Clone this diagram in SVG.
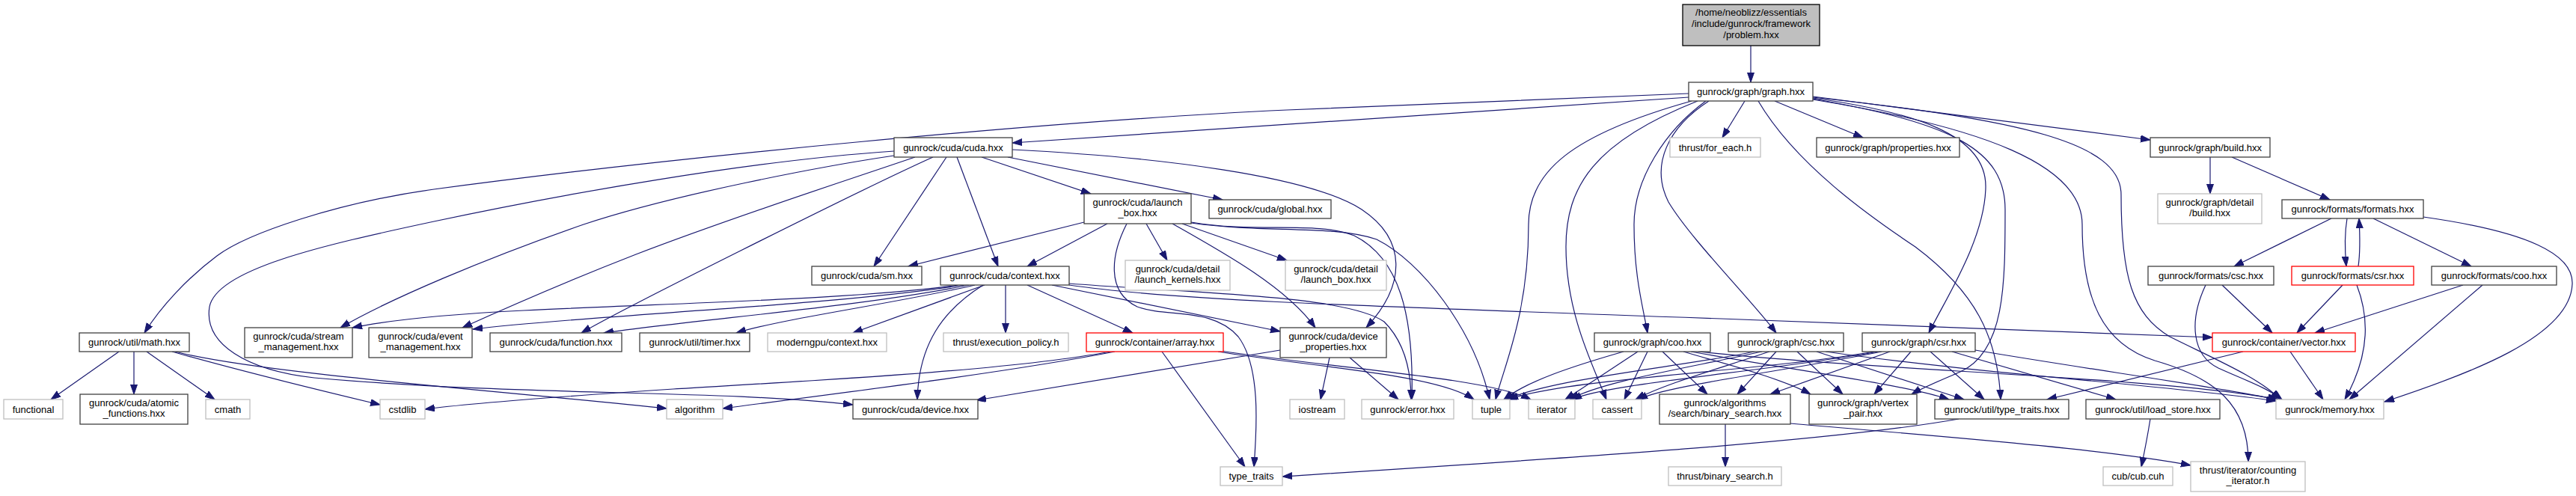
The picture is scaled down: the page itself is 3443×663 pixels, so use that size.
<svg xmlns="http://www.w3.org/2000/svg" width="3443" height="663" viewBox="0 0 3443 663">
<defs>
<marker id="ah" markerWidth="14" markerHeight="10" refX="13" refY="4.5" orient="auto" markerUnits="userSpaceOnUse"><path d="M0,0 L13,4.5 L0,9 Z" fill="#191970" stroke="#191970" stroke-width="1"/></marker>
<style>
rect{fill:#ffffff;stroke:#404040;stroke-width:1.3}
.g rect{stroke:#bfbfbf}
.r rect{stroke:#ff0000}
.root rect{fill:#bfbfbf;stroke:#000000}
text{font-family:"Liberation Sans",Arial,Helvetica,sans-serif;font-size:13px;fill:#000000;text-anchor:middle}
#edges path{fill:none;stroke:#191970;stroke-width:1.2;marker-end:url(#ah)}
</style>
</defs>
<rect x="0" y="0" width="3443" height="663" style="fill:#ffffff;stroke:none"/>
<g id="edges">
<path d="M2340,61 L2340,110"/>
<path d="M2332,135 L2302,184"/>
<path d="M2372,135 L2490,184"/>
<path d="M2423,129 L2874,187"/>
<path d="M2257,125 L1720,147 C1400,162 900,210 580,253 C450,271 330,312 290,342 C250,372 215,410 193,445"/>
<path d="M2257,130 L1353,191"/>
<path d="M2261,135 C2100,180 2043,230 2043,300 C2043,420 2010,490 1999,534"/>
<path d="M2269,135 C2130,190 2093,250 2093,330 C2093,420 2130,490 2147,534"/>
<path d="M2280,135 C2225,175 2184,240 2184,300 C2184,370 2196,410 2202,445"/>
<path d="M2284,135 C2230,170 2205,220 2230,270 C2260,320 2340,400 2374,445"/>
<path d="M2350,135 C2400,220 2500,290 2560,330 C2640,390 2670,450 2674,534"/>
<path d="M2423,131 C2560,150 2655,180 2654,250 C2653,320 2600,400 2578,445"/>
<path d="M2423,132 C2610,165 2680,200 2680,280 C2680,380 2680,470 2620,497 C2590,510 2570,518 2555,527"/>
<path d="M2423,133 C2650,170 2783,220 2783,300 C2783,400 2810,460 2880,482 C2960,505 3005,540 3005,617"/>
<path d="M2423,130 C2700,160 2835,190 2835,260 C2835,370 2850,420 2900,450 C2960,480 3020,505 3048,534"/>
<path d="M1312,210 L1458,259"/>
<path d="M1347,210 L1634,267"/>
<path d="M1353,200 C1550,210 1750,235 1820,280 C1880,320 1880,380 1826,438"/>
<path d="M1265,210 L1168,356"/>
<path d="M1279,210 L1334,356"/>
<path d="M1195,208 C1100,222 900,260 780,300 C650,345 520,400 455,438"/>
<path d="M1223,210 C1120,245 980,290 850,340 C760,375 680,410 618,438"/>
<path d="M1247,210 C1180,240 1080,290 990,335 C900,380 820,420 777,445"/>
<path d="M1195,202 C1000,215 750,260 580,296 C430,328 290,360 280,410 C272,460 330,495 420,505 C700,530 950,520 1140,541"/>
<path d="M1280,381 C1150,400 900,405 700,415 C600,420 520,428 471,438"/>
<path d="M1288,381 C1100,410 800,420 632,440"/>
<path d="M1295,381 C1150,410 950,425 807,445"/>
<path d="M1303,381 C1200,405 1050,425 984,445"/>
<path d="M1316,381 L1140,445"/>
<path d="M1344,381 L1344,445"/>
<path d="M1373,381 L1514,445"/>
<path d="M1314,381 C1260,415 1228,460 1226,534"/>
<path d="M1406,381 L1711,443"/>
<path d="M1429,379 C1600,392 1800,395 1850,430 C1880,460 1886,500 1886,534"/>
<path d="M1429,381 C1560,400 1750,407 2300,426 C2600,437 2800,446 2957,451"/>
<path d="M1449,297 L1214,356"/>
<path d="M1480,299 L1373,356"/>
<path d="M1506,299 C1485,340 1478,390 1520,410 C1560,425 1620,410 1655,450 C1685,490 1680,570 1676,624"/>
<path d="M1532,299 L1560,348"/>
<path d="M1567,299 C1640,340 1720,385 1758,438"/>
<path d="M1580,299 L1720,348"/>
<path d="M1592,297 C1680,312 1760,295 1810,315 C1870,345 1890,420 1887,534"/>
<path d="M1592,298 C1690,312 1780,300 1840,320 C1900,350 1970,440 1991,534"/>
<path d="M1777,478 L1765,534"/>
<path d="M1804,478 L1869,534"/>
<path d="M1711,468 L1305,535"/>
<path d="M1484,470 C1350,495 1100,508 900,520 C750,530 620,540 568,547"/>
<path d="M1490,470 C1350,497 1150,522 966,546"/>
<path d="M1553,470 L1664,624"/>
<path d="M1628,470 C1750,490 1920,500 1970,534"/>
<path d="M1632,469 C1780,492 1990,505 2046,534"/>
<path d="M159,470 L68,534"/>
<path d="M179,470 L179,527"/>
<path d="M196,470 L287,534"/>
<path d="M230,470 C300,490 420,520 508,541"/>
<path d="M234,470 C350,500 700,525 891,546"/>
<path d="M2954,210 L2954,259"/>
<path d="M2983,210 L3114,267"/>
<path d="M3116,292 L2986,356"/>
<path d="M3137,292 C3134,310 3134,335 3136,356"/>
<path d="M3152,356 C3155,335 3154,310 3153,292"/>
<path d="M3172,292 L3303,356"/>
<path d="M3239,290 C3380,310 3440,340 3438,380 C3435,450 3300,500 3187,537"/>
<path d="M2970,381 L3037,445"/>
<path d="M2948,381 C2925,430 2930,475 2965,492 C3000,508 3030,518 3050,534"/>
<path d="M3131,381 L3070,445"/>
<path d="M3150,381 C3165,420 3170,470 3134,534"/>
<path d="M3292,381 L3094,445"/>
<path d="M3318,381 L3140,534"/>
<path d="M3061,470 L3105,534"/>
<path d="M2998,470 L2736,534"/>
<path d="M2170,470 C2100,490 2040,510 2010,534"/>
<path d="M2189,470 L2092,534"/>
<path d="M2202,470 L2171,534"/>
<path d="M2222,470 L2282,527"/>
<path d="M2250,470 C2300,485 2380,505 2420,527"/>
<path d="M2260,470 C2400,495 2550,515 2605,534"/>
<path d="M2270,470 C2500,495 2900,505 3045,534"/>
<path d="M2345,470 C2250,490 2080,505 2013,534"/>
<path d="M2355,470 C2250,493 2140,510 2098,534"/>
<path d="M2365,470 C2290,495 2220,515 2186,534"/>
<path d="M2374,470 L2322,527"/>
<path d="M2402,470 L2463,527"/>
<path d="M2428,470 L2625,534"/>
<path d="M2440,470 C2650,500 2900,515 3042,536"/>
<path d="M2505,470 C2350,497 2100,505 2016,534"/>
<path d="M2510,470 C2360,497 2150,512 2101,534"/>
<path d="M2515,470 C2380,497 2230,515 2189,534"/>
<path d="M2526,470 L2366,527"/>
<path d="M2554,470 L2505,527"/>
<path d="M2580,470 L2652,534"/>
<path d="M2609,470 L2828,534"/>
<path d="M2640,468 C2800,495 2950,515 3044,534"/>
<path d="M2306,567 L2306,624"/>
<path d="M2393,566 C2550,580 2800,598 2928,622"/>
<path d="M2618,560 C2450,590 2100,612 1714,637"/>
<path d="M2874,560 C2870,585 2866,605 2862,624"/>
</g>
<g id="n_root" class="root"><rect x="2249" y="6" width="183" height="55"/><text x="2340.5" y="20.5">/home/neoblizz/essentials</text><text x="2340.5" y="35.5">/include/gunrock/framework</text><text x="2340.5" y="50.5">/problem.hxx</text></g>
<g id="n_graph"><rect x="2257" y="110" width="166" height="25"/><text x="2340" y="127">gunrock/graph/graph.hxx</text></g>
<g id="n_for_each" class="g"><rect x="2232" y="184" width="121" height="26"/><text x="2292.5" y="201.5">thrust/for_each.h</text></g>
<g id="n_properties"><rect x="2428" y="184" width="191" height="26"/><text x="2523.5" y="201.5">gunrock/graph/properties.hxx</text></g>
<g id="n_build"><rect x="2874" y="184" width="160" height="26"/><text x="2954" y="201.5">gunrock/graph/build.hxx</text></g>
<g id="n_cuda"><rect x="1195" y="184" width="158" height="26"/><text x="1274" y="201.5">gunrock/cuda/cuda.hxx</text></g>
<g id="n_launch_box"><rect x="1449" y="259" width="143" height="40"/><text x="1520.5" y="274.5">gunrock/cuda/launch</text><text x="1520.5" y="289">_box.hxx</text></g>
<g id="n_detail_build" class="g"><rect x="2884" y="259" width="139" height="40"/><text x="2953.5" y="274.5">gunrock/graph/detail</text><text x="2953.5" y="289">/build.hxx</text></g>
<g id="n_global"><rect x="1616" y="267" width="163" height="25"/><text x="1697.5" y="284">gunrock/cuda/global.hxx</text></g>
<g id="n_formats"><rect x="3050" y="267" width="189" height="25"/><text x="3144.5" y="284">gunrock/formats/formats.hxx</text></g>
<g id="n_sm"><rect x="1085" y="356" width="147" height="25"/><text x="1158.5" y="373">gunrock/cuda/sm.hxx</text></g>
<g id="n_context"><rect x="1257" y="356" width="172" height="25"/><text x="1343" y="373">gunrock/cuda/context.hxx</text></g>
<g id="n_launch_kernels" class="g"><rect x="1504" y="348" width="140" height="40"/><text x="1574" y="363.5">gunrock/cuda/detail</text><text x="1574" y="378">/launch_kernels.hxx</text></g>
<g id="n_detail_launch_box" class="g"><rect x="1718" y="348" width="135" height="40"/><text x="1785.5" y="363.5">gunrock/cuda/detail</text><text x="1785.5" y="378">/launch_box.hxx</text></g>
<g id="n_f_csc"><rect x="2871" y="356" width="168" height="25"/><text x="2955" y="373">gunrock/formats/csc.hxx</text></g>
<g id="n_f_csr" class="r"><rect x="3063" y="356" width="163" height="25"/><text x="3144.5" y="373">gunrock/formats/csr.hxx</text></g>
<g id="n_f_coo"><rect x="3250" y="356" width="167" height="25"/><text x="3333.5" y="373">gunrock/formats/coo.hxx</text></g>
<g id="n_math"><rect x="106" y="445" width="147" height="25"/><text x="179.5" y="462">gunrock/util/math.hxx</text></g>
<g id="n_stream"><rect x="327" y="438" width="144" height="40"/><text x="399" y="453.5">gunrock/cuda/stream</text><text x="399" y="468">_management.hxx</text></g>
<g id="n_event"><rect x="493" y="438" width="138" height="40"/><text x="562" y="453.5">gunrock/cuda/event</text><text x="562" y="468">_management.hxx</text></g>
<g id="n_function"><rect x="655" y="445" width="176" height="25"/><text x="743" y="462">gunrock/cuda/function.hxx</text></g>
<g id="n_timer"><rect x="855" y="445" width="147" height="25"/><text x="928.5" y="462">gunrock/util/timer.hxx</text></g>
<g id="n_moderngpu" class="g"><rect x="1026" y="445" width="159" height="25"/><text x="1105.5" y="462">moderngpu/context.hxx</text></g>
<g id="n_exec_policy" class="g"><rect x="1261" y="445" width="167" height="25"/><text x="1344.5" y="462">thrust/execution_policy.h</text></g>
<g id="n_array" class="r"><rect x="1452" y="445" width="183" height="25"/><text x="1543.5" y="462">gunrock/container/array.hxx</text></g>
<g id="n_device_properties"><rect x="1711" y="438" width="142" height="40"/><text x="1782" y="453.5">gunrock/cuda/device</text><text x="1782" y="468">_properties.hxx</text></g>
<g id="n_g_coo"><rect x="2131" y="445" width="155" height="25"/><text x="2208.5" y="462">gunrock/graph/coo.hxx</text></g>
<g id="n_g_csc"><rect x="2310" y="445" width="154" height="25"/><text x="2387" y="462">gunrock/graph/csc.hxx</text></g>
<g id="n_g_csr"><rect x="2489" y="445" width="151" height="25"/><text x="2564.5" y="462">gunrock/graph/csr.hxx</text></g>
<g id="n_vector" class="r"><rect x="2957" y="445" width="191" height="25"/><text x="3052.5" y="462">gunrock/container/vector.hxx</text></g>
<g id="n_functional" class="g"><rect x="5" y="534" width="79" height="26"/><text x="44.5" y="551.5">functional</text></g>
<g id="n_atomic"><rect x="107" y="527" width="144" height="40"/><text x="179" y="542.5">gunrock/cuda/atomic</text><text x="179" y="557">_functions.hxx</text></g>
<g id="n_cmath" class="g"><rect x="275" y="534" width="59" height="26"/><text x="304.5" y="551.5">cmath</text></g>
<g id="n_cstdlib" class="g"><rect x="508" y="534" width="60" height="26"/><text x="538" y="551.5">cstdlib</text></g>
<g id="n_algorithm" class="g"><rect x="891" y="534" width="75" height="26"/><text x="928.5" y="551.5">algorithm</text></g>
<g id="n_device"><rect x="1140" y="534" width="167" height="26"/><text x="1223.5" y="551.5">gunrock/cuda/device.hxx</text></g>
<g id="n_iostream" class="g"><rect x="1724" y="534" width="73" height="26"/><text x="1760.5" y="551.5">iostream</text></g>
<g id="n_error" class="g"><rect x="1820" y="534" width="123" height="26"/><text x="1881.5" y="551.5">gunrock/error.hxx</text></g>
<g id="n_tuple" class="g"><rect x="1968" y="534" width="50" height="26"/><text x="1993" y="551.5">tuple</text></g>
<g id="n_iterator" class="g"><rect x="2043" y="534" width="62" height="26"/><text x="2074" y="551.5">iterator</text></g>
<g id="n_cassert" class="g"><rect x="2129" y="534" width="65" height="26"/><text x="2161.5" y="551.5">cassert</text></g>
<g id="n_binary_search"><rect x="2218" y="527" width="175" height="40"/><text x="2305.5" y="542.5">gunrock/algorithms</text><text x="2305.5" y="557">/search/binary_search.hxx</text></g>
<g id="n_vertex_pair"><rect x="2418" y="527" width="144" height="40"/><text x="2490" y="542.5">gunrock/graph/vertex</text><text x="2490" y="557">_pair.hxx</text></g>
<g id="n_util_type_traits"><rect x="2586" y="534" width="179" height="26"/><text x="2675.5" y="551.5">gunrock/util/type_traits.hxx</text></g>
<g id="n_load_store"><rect x="2788" y="534" width="179" height="26"/><text x="2877.5" y="551.5">gunrock/util/load_store.hxx</text></g>
<g id="n_memory" class="g"><rect x="3042" y="534" width="144" height="26"/><text x="3114" y="551.5">gunrock/memory.hxx</text></g>
<g id="n_type_traits" class="g"><rect x="1631" y="624" width="83" height="25"/><text x="1672.5" y="641">type_traits</text></g>
<g id="n_thrust_binary_search" class="g"><rect x="2230" y="624" width="151" height="25"/><text x="2305.5" y="641">thrust/binary_search.h</text></g>
<g id="n_cub" class="g"><rect x="2811" y="624" width="93" height="25"/><text x="2857.5" y="641">cub/cub.cuh</text></g>
<g id="n_counting_iterator" class="g"><rect x="2928" y="617" width="153" height="40"/><text x="3004.5" y="632.5">thrust/iterator/counting</text><text x="3004.5" y="647">_iterator.h</text></g>
</svg>
